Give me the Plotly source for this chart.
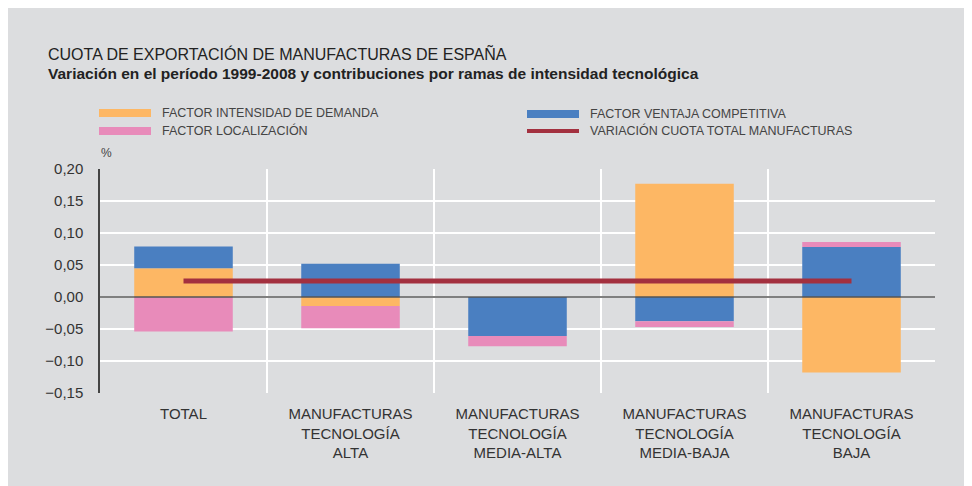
import plotly.graph_objects as go

categories = ["TOTAL", "MANUFACTURAS<br>TECNOLOGÍA<br>ALTA", "MANUFACTURAS<br>TECNOLOGÍA<br>MEDIA-ALTA",
              "MANUFACTURAS<br>TECNOLOGÍA<br>MEDIA-BAJA", "MANUFACTURAS<br>TECNOLOGÍA<br>BAJA"]
intensidad_demanda = [0.045, -0.014, 0.0, 0.177, -0.118]
ventaja_competitiva = [0.034, 0.052, -0.061, -0.038, 0.078]
localizacion = [-0.054, -0.035, -0.016, -0.009, 0.008]
variacion_total = [0.025, 0.025, 0.025, 0.025, 0.025]

series_names = ["FACTOR INTENSIDAD DE DEMANDA", "FACTOR VENTAJA COMPETITIVA",
                "FACTOR LOCALIZACIÓN", "VARIACIÓN CUOTA TOTAL MANUFACTURAS"]
y_ticks = [-0.15, -0.10, -0.05, 0.0, 0.05, 0.10, 0.15, 0.20]

ORANGE = "#FDB764"
BLUE = "#4A7FC1"
PINK = "#E88BBA"
RED = "#A3303F"
BG = "#DCDDDF"
TXT = "#333333"
FONT = "Liberation Sans, Arial, sans-serif"

OFF = 8  # page body margin
W, H = 972 - OFF, 486 - OFF
L = 100 - OFF
T = 169 - OFF
R = W - (935 - OFF)
B = H - (393 - OFF)
PW, PH = W - L - R, H - T - B

def px(x):
    return (x - OFF - L) / PW

def py(y):
    return (H - B - (y - OFF)) / PH

fig = go.Figure()
fig.add_trace(go.Bar(x=categories, y=intensidad_demanda, name=series_names[0], marker_color=ORANGE,
                     marker_line_width=0))
fig.add_trace(go.Bar(x=categories, y=ventaja_competitiva, name=series_names[1], marker_color=BLUE,
                     marker_line_width=0))
fig.add_trace(go.Bar(x=categories, y=localizacion, name=series_names[2], marker_color=PINK,
                     marker_line_width=0))
fig.add_trace(go.Scatter(x=categories, y=variacion_total, name=series_names[3], mode="lines",
                         line=dict(color=RED, width=5)))

shapes = [
    dict(type="line", xref="paper", yref="y", x0=0, x1=1, y0=0, y1=0,
         line=dict(color="#555555", width=1.3), layer="above"),
]

leg = [
    (99, 151, 113, 8, ORANGE, 160, series_names[0]),
    (527, 579, 114, 8, BLUE, 588, series_names[1]),
    (99, 151, 131, 8, PINK, 160, series_names[2]),
    (527, 579, 131, 4, RED, 588, series_names[3]),
]
annotations = []
for x0, x1, yc, h, col, tx, label in leg:
    shapes.append(dict(type="rect", xref="paper", yref="paper", x0=px(x0), x1=px(x1),
                       y0=py(yc + h / 2), y1=py(yc - h / 2), fillcolor=col, line_width=0))
    annotations.append(dict(xref="paper", yref="paper", x=px(tx), y=py(yc), text=label,
                            showarrow=False, xanchor="left", yanchor="middle",
                            font=dict(family=FONT, size=12.5, color="#444444")))

annotations += [
    dict(xref="paper", yref="paper", x=px(46), y=py(53), text="CUOTA DE EXPORTACIÓN DE MANUFACTURAS DE ESPAÑA",
         showarrow=False, xanchor="left", yanchor="middle", font=dict(family=FONT, size=16, color="#222222")),
    dict(xref="paper", yref="paper", x=px(46), y=py(73),
         text="<b>Variación en el período 1999-2008 y contribuciones por ramas de intensidad tecnológica</b>",
         showarrow=False, xanchor="left", yanchor="middle", font=dict(family=FONT, size=15.5, color="#222222")),
    dict(xref="paper", yref="paper", x=px(99), y=py(153), text="%",
         showarrow=False, xanchor="left", yanchor="middle", font=dict(family=FONT, size=12, color="#444444")),
]

fig.update_layout(
    width=W, height=H,
    margin=dict(l=L, r=R, t=T, b=B, pad=0),
    paper_bgcolor=BG,
    plot_bgcolor=BG,
    barmode="relative",
    bargap=0.41,
    showlegend=False,
    separators=",.",
    font=dict(family=FONT, size=15, color=TXT),
    shapes=shapes,
    annotations=annotations,
)
fig.update_xaxes(
    type="category", tickson="boundaries", showgrid=True, gridcolor="white", gridwidth=2,
    showline=False, ticks="", zeroline=False, ticklabelstandoff=10,
    tickfont=dict(family=FONT, size=15, color=TXT),
)
fig.update_yaxes(
    range=[-0.15, 0.20], tickvals=y_ticks, tickformat=".2f",
    showgrid=True, gridcolor="white", gridwidth=2, zeroline=False,
    showline=True, linecolor="#444444", linewidth=1.5, ticks="", ticklabelstandoff=12,
    tickfont=dict(family=FONT, size=15, color=TXT),
)

fig.write_html("out.html")
